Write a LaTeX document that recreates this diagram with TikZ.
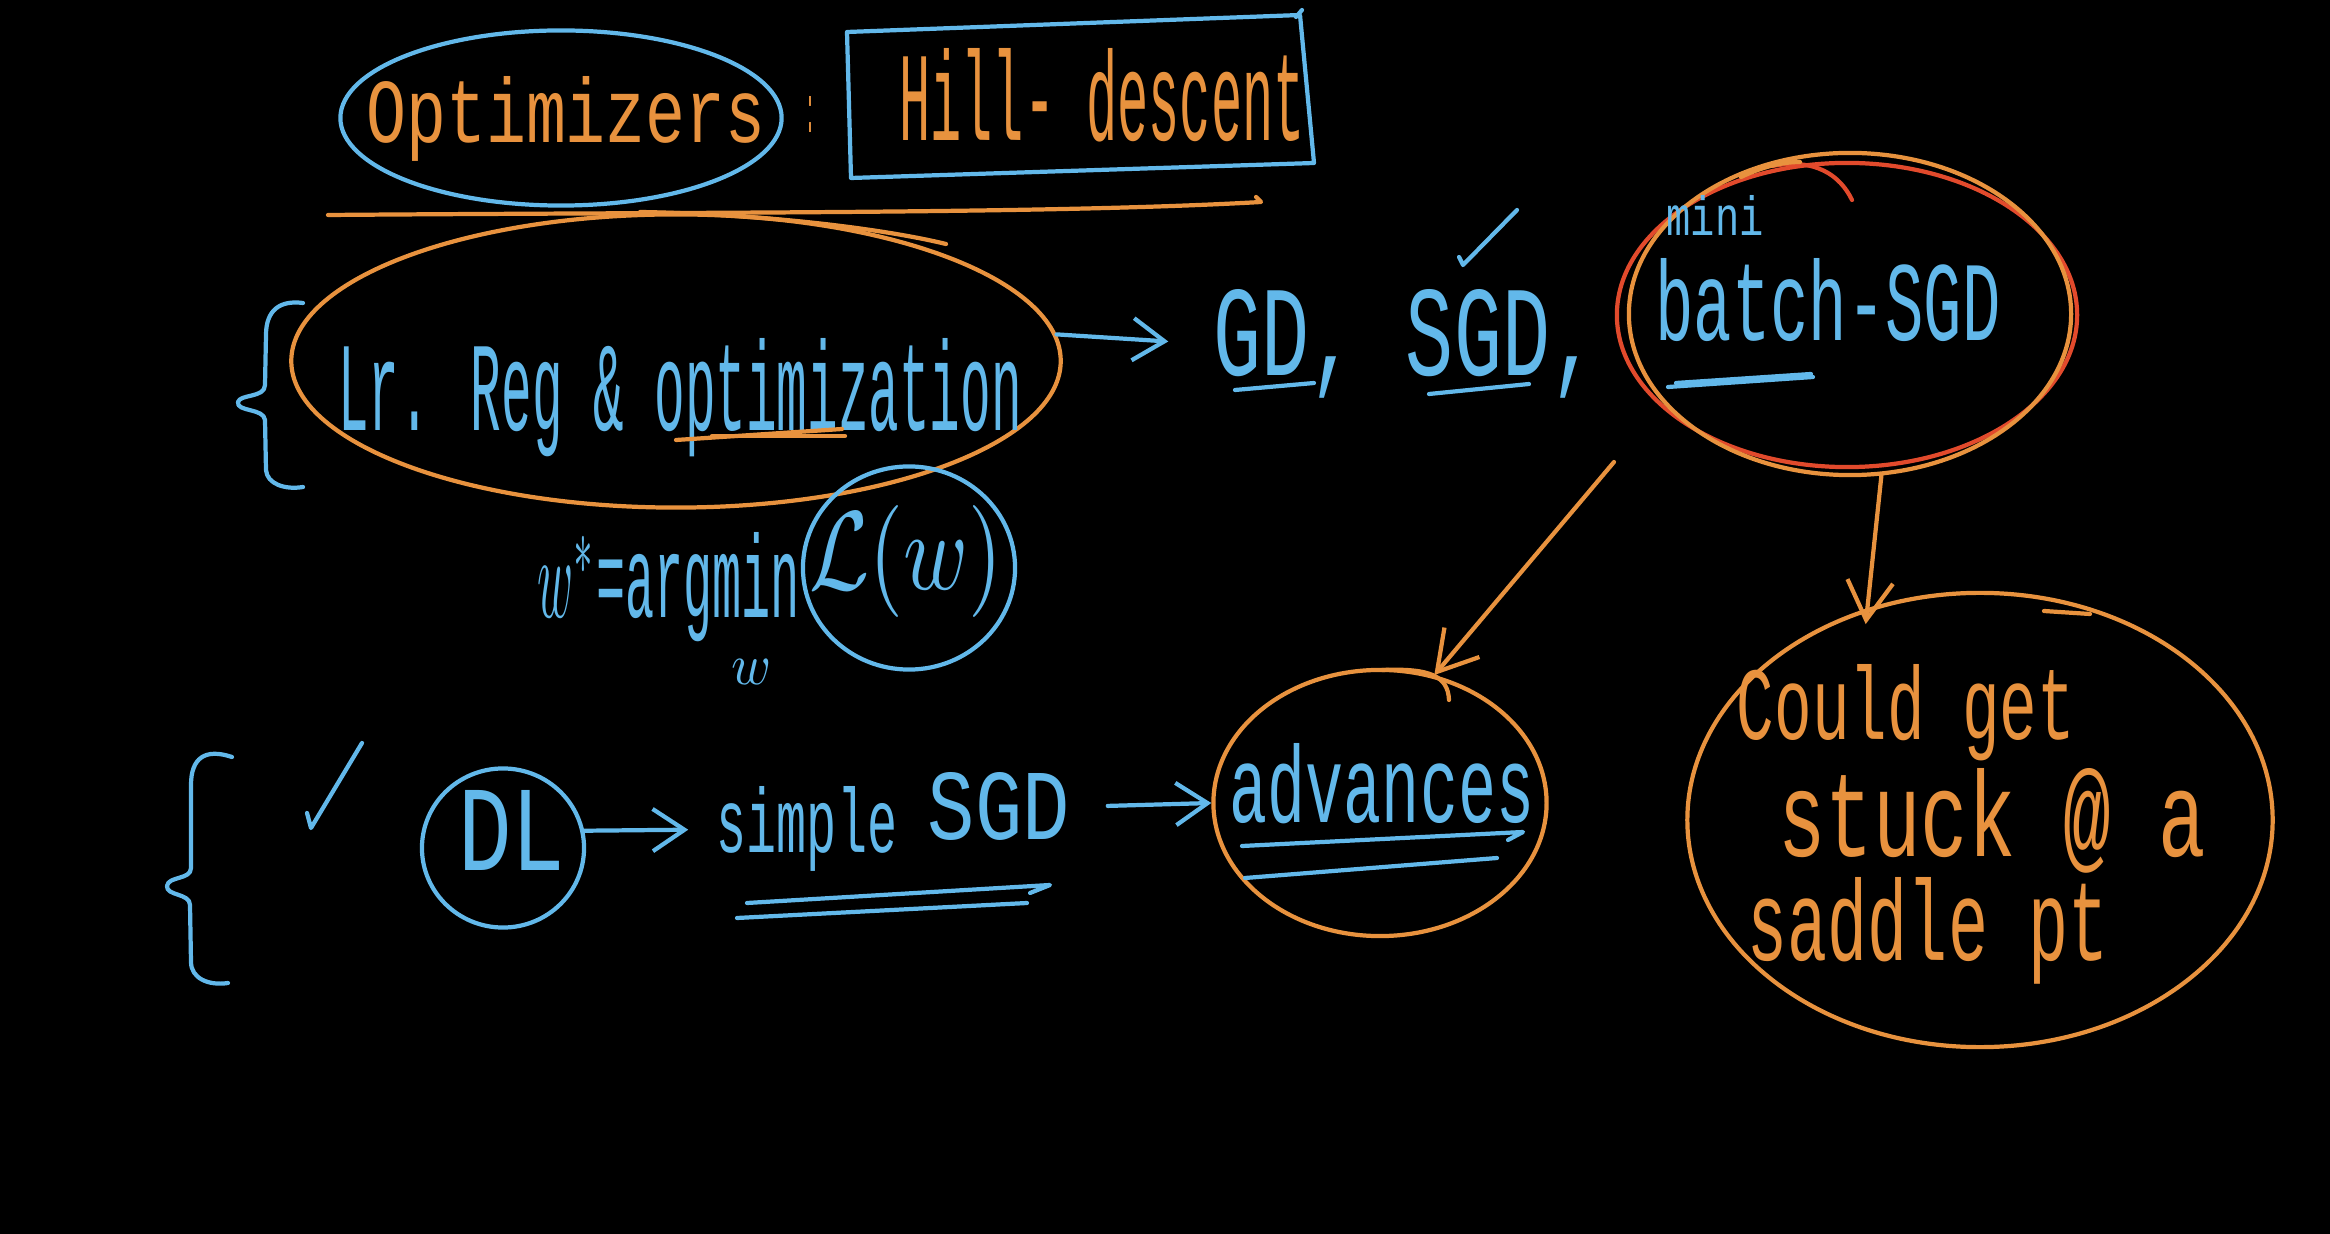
\documentclass[tikz,border=0pt]{standalone}
\usepackage{fontspec}
\newfontfamily\handfont{Liberation Mono}
\usepackage{graphicx}
\usetikzlibrary{shapes.geometric,arrows.meta}
\definecolor{cblue}{RGB}{98,184,234}
\definecolor{corange}{RGB}{232,146,62}
\definecolor{cred}{RGB}{226,74,44}
\newcommand{\handtxt}[3]{\resizebox{#1cm}{#2cm}{\handfont #3}}
\tikzset{
 ink/.style={line width=1.2pt, line cap=round, line join=round},
 bline/.style={ink, draw=cblue},
 oline/.style={ink, draw=corange},
 rline/.style={ink, draw=cred},
 ring/.style={ellipse, inner sep=0pt, ink},
 btxt/.style={text=cblue, inner sep=0pt, anchor=base},
 otxt/.style={text=corange, inner sep=0pt, anchor=base},
 barrow/.style={bline, -{Straight Barb[length=9pt,width=12pt]}},
 oarrow/.style={oline, -{Straight Barb[length=11pt,width=13pt]}},
}
\begin{document}
\begin{tikzpicture}[x=0.01cm,y=-0.01cm]
\fill[black] (0,0) rectangle (2330,1234);
\useasboundingbox (0,0) rectangle (2330,1234);

% ---------- top row ----------
\node[ring, draw=cblue, minimum width=4.41cm, minimum height=1.75cm] (ellOpt) at (561,118) {};
\node[otxt] (tOpt) at (566,143) {\handtxt{3.99}{0.66}{Optimizers}};
\node[otxt] (tColon) at (810,133) {\handtxt{0.10}{0.36}{:}};
\draw[bline] (847,32) -- (1300,15) -- (1314,163) -- (851,178) -- cycle;
\draw[bline] (1296,17) -- (1302,10);
\node[otxt] (tHill) at (1102,141) {\handtxt{4.05}{0.92}{Hill- descent}};
\draw[oline] (328,215) .. controls (700,212) and (1050,214) .. (1261,202) -- (1256,197);

% ---------- middle row ----------
\draw[bline] (303,303) .. controls (280,300) and (266,310) .. (266,335) -- (265,385)
  .. controls (265,398) and (240,394) .. (238,402) .. controls (236,412) and (264,408) .. (265,420)
  -- (266,470) .. controls (267,484) and (285,490) .. (303,487);
\node[ring, draw=corange, minimum width=7.69cm, minimum height=2.93cm] (ellLR) at (676,361) {};
\draw[oline] (640,212) .. controls (760,214) and (880,228) .. (946,244);
\node[btxt] (tLR) at (680,431) {\handtxt{6.83}{0.92}{Lr. Reg \& optimization}};
\draw[oline] (676,440) -- (842,429);
\draw[oline] (712,436) -- (845,436);

\node[btxt] (tGD) at (1406,376) {\handtxt{3.84}{0.86}{GD, SGD,}};
\draw[bline] (1235,390) -- (1314,383);
\draw[bline] (1429,394) -- (1529,384);
\draw[bline] (1459,257) -- (1463,265) -- (1517,210);

\node[ring, draw=cred, minimum width=4.60cm, minimum height=3.04cm] (ellRed) at (1847,315) {};
\node[ring, draw=corange, minimum width=4.42cm, minimum height=3.22cm] (ellOr) at (1850,314) {};
\draw[rline] (1772,166) .. controls (1815,158) and (1840,175) .. (1852,200);
\draw[oline] (1741,177) .. controls (1760,168) and (1780,162) .. (1800,162);
\node[btxt] (tMini) at (1715,236) {\handtxt{0.97}{0.40}{mini}};
\node[btxt] (tBatch) at (1828,341) {\handtxt{3.45}{0.82}{batch-SGD}};
\draw[bline] (1668,387) -- (1813,377);
\draw[bline] (1676,383) -- (1811,374);

\node[btxt] (tArg) at (669,617) {\handtxt{2.62}{0.85}{$w^{*}$=argmin}};
\node[text=cblue, inner sep=0pt] (tSub) at (752,672) {\resizebox{0.40cm}{0.25cm}{$w$}};
\node[ring, draw=cblue, minimum width=2.12cm, minimum height=2.03cm] (ellL) at (909,568) {};
\node[text=cblue, inner sep=0pt] (tL) at (906,561) {\resizebox*{1.93cm}{1.12cm}{$\mathcal{L}(w)$}};

% ---------- bottom row ----------
\draw[bline] (232,757) .. controls (205,748) and (191,758) .. (191,785) -- (191,868)
  .. controls (191,880) and (168,876) .. (167,886) .. controls (166,896) and (190,893) .. (190,905)
  -- (191,962) .. controls (191,978) and (208,986) .. (228,983);
\draw[bline] (307,813) -- (311,828) -- (362,743);
\node[ring, draw=cblue, minimum width=1.62cm, minimum height=1.59cm] (ellDL) at (503,848) {};
\node[btxt] (tDL) at (512,870) {\handtxt{1.07}{0.80}{DL}};
\node[btxt] (tSimple) at (807,853) {\handtxt{1.80}{0.66}{simple}};
\node[btxt] (tSGD) at (999,840) {\handtxt{1.42}{0.67}{SGD}};
\draw[bline] (747,903) -- (1050,885) -- (1030,893);
\draw[bline] (737,918) -- (1027,903);

\node[ring, draw=corange, minimum width=3.33cm, minimum height=2.66cm] (ellAdv) at (1380,803) {};
\draw[oline] (1382,670) .. controls (1430,668) and (1448,676) .. (1449,700);
\node[btxt] (tAdv) at (1382,822) {\handtxt{3.04}{0.79}{advances}};
\draw[bline] (1242,846) -- (1523,832) -- (1508,840);
\draw[bline] (1245,878) -- (1497,858);

\node[ring, draw=corange, minimum width=5.85cm, minimum height=4.54cm] (ellStuck) at (1980,820) {};
\draw[oline] (2044,611) -- (2090,614);
\node[otxt] (tCould) at (1906,740) {\handtxt{3.38}{0.75}{Could get}};
\node[otxt] (tStuck) at (1992,856) {\handtxt{4.27}{0.88}{stuck @ a}};
\node[otxt] (tSaddle) at (1928,960) {\handtxt{3.60}{0.83}{saddle pt}};

% ---------- connectors ----------
\coordinate (mbA) at (1614,462);
\draw[oarrow] (mbA) -- (ellAdv.67);
\draw[oarrow, shorten >=-0.16cm] (ellOr.281) -- (ellStuck.118);
\draw[barrow, shorten >=0.45cm] (ellLR.4) -- (tGD.west);
\draw[barrow, shorten >=0.28cm] (ellDL.12) -- (tSimple.west);
\draw[barrow, shorten <=0.37cm] (tSGD.east) -- (ellAdv.west);
\end{tikzpicture}
\end{document}
